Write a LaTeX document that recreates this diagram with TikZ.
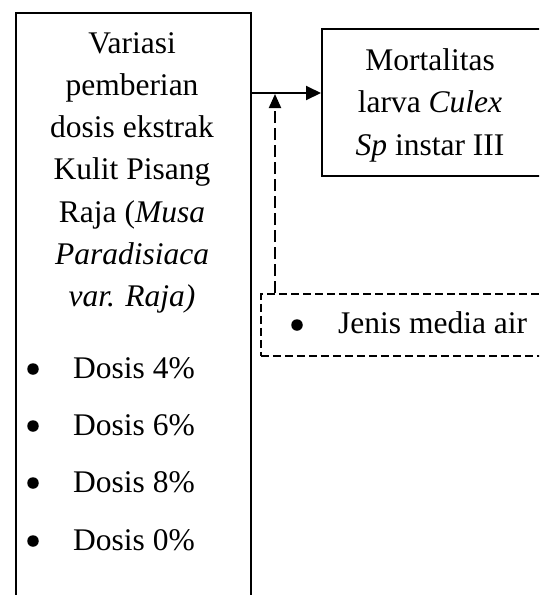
\documentclass[tikz,border=0pt]{standalone}
\usepackage{fontspec}
\setmainfont{Liberation Serif}
\usetikzlibrary{arrows.meta}
\begin{document}
\begin{tikzpicture}[x=1pt,y=-1pt,
  box/.style={draw,line width=2pt,rectangle,inner sep=0pt,anchor=north west},
  dbox/.style={box,dash pattern=on 8pt off 4pt,line width=1.8pt},
  txt/.style={inner sep=0pt,font=\fontsize{31.5}{42.3}\selectfont},
  bul/.style={circle,fill,inner sep=0pt,minimum size=11.5pt},
  item/.style={txt,anchor=base west},
  arr/.style={line width=2pt,-{Triangle[length=15pt,width=14pt]}},
  darr/.style={line width=2pt,dash pattern=on 12pt off 5pt,-{Triangle[length=14pt,width=12pt]}}
]
\useasboundingbox (0,0) rectangle (539,595);
\clip (0,0) rectangle (539,595);
% boxes
\node[box,minimum width=235pt,minimum height=620pt] (L) at (15,12) {};
\node[box,minimum width=250pt,minimum height=147pt] (R) at (321,28) {};
\node[dbox,minimum width=300pt,minimum height=62pt] (J) at (260,293) {};
% texts
\node[txt,align=center,anchor=north] (Lt) at (132,32)
  {Variasi\\pemberian\\dosis ekstrak\\Kulit Pisang\\Raja (\textit{Musa}\\\textit{Paradisiaca}\\\textit{var. Raja)}};
\node[txt,align=center,anchor=north] (Rt) at (430,48.5)
  {Mortalitas\\larva \textit{Culex}\\\textit{Sp} instar III};
\node[bul] (b1) at (33,369) {};
\node[item] (d1) at (73,378) {Dosis 4\%};
\node[bul] (b2) at (33,426) {};
\node[item] (d2) at (73,435) {Dosis 6\%};
\node[bul] (b3) at (33,483) {};
\node[item] (d3) at (73,492) {Dosis 8\%};
\node[bul] (b4) at (33,541) {};
\node[item] (d4) at (73,550) {Dosis 0\%};
\node[bul] (bj) at (297,325) {};
\node[item] (jt) at (338,333) {Jenis media air};
% connectors
\coordinate (ay) at (0,93);
\coordinate (vtip) at (275,94);
\draw[arr] (L.east |- ay) -- (R.west |- ay);
\draw[darr] (vtip |- J.north) -- (vtip);
\end{tikzpicture}
\end{document}
